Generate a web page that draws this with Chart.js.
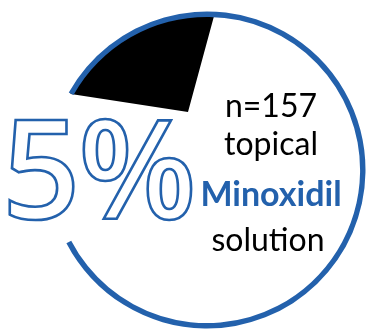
<!DOCTYPE html>
<html><head><meta charset="utf-8">
<script src="https://cdn.jsdelivr.net/npm/chart.js@4.4.1/dist/chart.umd.min.js"></script>
<style>
html,body{margin:0;padding:0;background:#fff;width:368px;height:331px;overflow:hidden;position:relative;font-family:Lato,"Open Sans",sans-serif}
#wedge{position:absolute;left:58px;top:-18px;width:260px;height:260px;clip-path:circle(156.5px at 149px 188px)}
#ring{position:absolute;left:0;top:0;width:368px;height:331px}
.t{position:absolute;width:200px;text-align:center;line-height:1;white-space:nowrap;color:#000;font-size:32px}
.b{font-weight:700;color:#2361AC;font-size:34px}
#big{position:absolute;left:2px;top:98px;line-height:1;font-family:"Open Sans",Lato,sans-serif;font-size:137px;font-weight:600;letter-spacing:-2px;color:#fff;-webkit-text-stroke:2.6px #2361AC;white-space:nowrap}
</style></head><body>
<canvas id="wedge" width="260" height="260"></canvas>
<canvas id="ring" width="368" height="331"></canvas>
<div id="big"></div>
<div class="t" id="l1" style="left:171px;top:89px"></div>
<div class="t" id="l2" style="left:171px;top:127px"></div>
<div class="t b" id="l3" style="left:171px;top:176px"></div>
<div class="t" id="l4" style="left:168px;top:223px"></div>
<script>
// Data
const sliceLabels = ['Share', 'Rest'];
const sliceValues = [26.8, 73.2];          // black wedge vs remainder (% of turn)
const outlineLabels = ['Outline', 'Gap'];
const outlineValues = [303.2, 56.8];       // visible outline arc vs hidden arc (degrees)
const bigLabel = '5%';
const textLines = ['n=157', 'topical', 'Minoxidil', 'solution'];

const BLUE = '#2361AC';

document.getElementById('big').textContent = bigLabel;
['l1','l2','l3','l4'].forEach((id, i) => document.getElementById(id).textContent = textLines[i]);

const common = {
  responsive: false,
  animation: false,
  devicePixelRatio: 1,
  events: [],
  plugins: { legend: { display: false }, tooltip: { enabled: false } }
};

new Chart(document.getElementById('wedge'), {
  type: 'pie',
  data: {
    labels: sliceLabels,
    datasets: [{ data: sliceValues, backgroundColor: ['#000000', 'rgba(0,0,0,0)'], borderWidth: 0, clip: false }]
  },
  options: Object.assign({}, common, { rotation: 278.7, radius: 130, layout: { padding: 0 } })
});

new Chart(document.getElementById('ring'), {
  type: 'doughnut',
  data: {
    labels: outlineLabels,
    datasets: [{ data: outlineValues, backgroundColor: [BLUE, 'rgba(0,0,0,0)'], borderWidth: 0, clip: false }]
  },
  options: Object.assign({}, common, {
    rotation: 299.3, radius: 158.5, cutout: 155.5,
    layout: { padding: { left: 46, top: 9, right: 0, bottom: 0 } }
  })
});
</script>
</body></html>
